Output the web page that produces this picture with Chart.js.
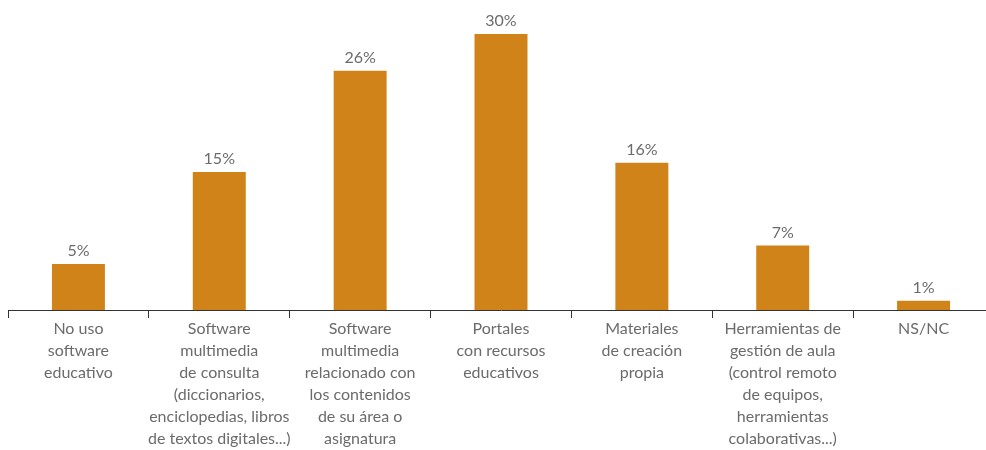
<!DOCTYPE html>
<html>
<head>
<meta charset="utf-8">
<script src="https://cdn.jsdelivr.net/npm/chart.js@4"></script>
<style>
  html, body { margin: 0; padding: 0; background: #fff; overflow: hidden; }
  #wrap { width: 994px; height: 450px; }
</style>
</head>
<body>
<div id="wrap"><canvas id="myChart"></canvas></div>
<script>
const categories = [
    ['No uso', 'software', 'educativo'],
    ['Software', 'multimedia', 'de consulta', '(diccionarios,', 'enciclopedias, libros', 'de textos digitales...)'],
    ['Software', 'multimedia', 'relacionado con', 'los contenidos', 'de su área o', 'asignatura'],
    ['Portales', 'con recursos', 'educativos'],
    ['Materiales', 'de creación', 'propia'],
    ['Herramientas de', 'gestión de aula', '(control remoto', 'de equipos,', 'herramientas', 'colaborativas...)'],
    ['NS/NC']
];
const values = [5, 15, 26, 30, 16, 7, 1];

const barColor = '#D08318';
const textColor = '#6b6b6b';
const fontFamily = 'Lato, "Open Sans", sans-serif';

// etiquetas de valor encima de cada barra
const valueLabels = {
    id: 'valueLabels',
    afterDatasetsDraw(chart) {
        const c = chart.ctx;
        const meta = chart.getDatasetMeta(0);
        c.save();
        c.font = '16px ' + fontFamily;
        c.fillStyle = textColor;
        c.textAlign = 'center';
        c.textBaseline = 'middle';
        meta.data.forEach((bar, i) => {
            c.fillText(values[i] + '%', bar.x, bar.y - 13);
        });
        c.restore();
    }
};

const ctx = document.getElementById('myChart').getContext('2d');

const myChart = new Chart(ctx, {
    type: 'bar',
    data: {
        labels: categories,
        datasets: [{
            data: values,
            backgroundColor: barColor,
            borderWidth: 0,
            barPercentage: 0.376,
            categoryPercentage: 1
        }]
    },
    options: {
        responsive: true,
        maintainAspectRatio: false,
        animation: false,
        layout: { padding: { left: 8, right: 0, top: 0, bottom: 0 } },
        plugins: {
            legend: { display: false },
            tooltip: { enabled: false }
        },
        scales: {
            x: {
                offset: true,
                border: { display: true, color: '#333', width: 1 },
                grid: {
                    offset: true,
                    drawOnChartArea: false,
                    drawTicks: true,
                    tickLength: 8,
                    tickWidth: 1,
                    tickColor: '#333'
                },
                ticks: {
                    autoSkip: false,
                    maxRotation: 0,
                    minRotation: 0,
                    padding: 0,
                    color: textColor,
                    font: { family: fontFamily, size: 16, lineHeight: 1.37 }
                },
                afterFit(scale) { scale.height = 140; }
            },
            y: {
                display: false,
                min: 0,
                max: 33.7
            }
        }
    },
    plugins: [valueLabels]
});
</script>
</body>
</html>
